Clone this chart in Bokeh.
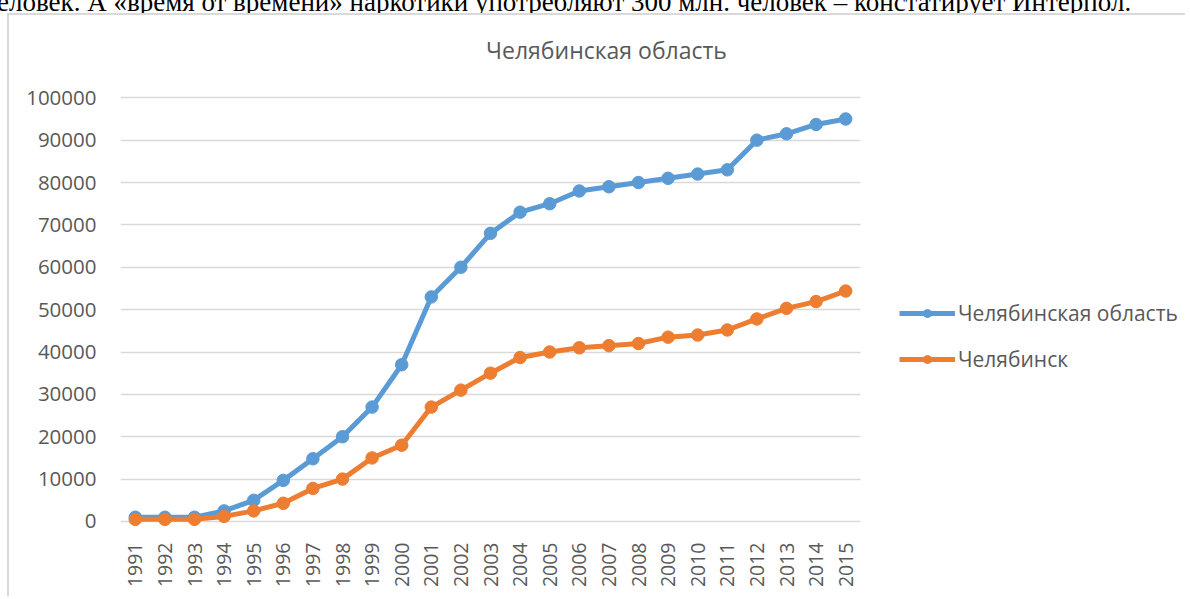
import math
from bokeh.plotting import figure
from bokeh.models import (Range1d, FixedTicker, Legend, LegendItem, Label, Div,
                          BasicTickFormatter, BoxAnnotation)
from bokeh.layouts import column
from bokeh.embed import file_html
from bokeh.resources import INLINE

years = list(range(1991, 2016))
oblast = [1000, 1000, 1000, 2500, 5000, 9700, 14800, 20000, 27000, 37000,
          53000, 60000, 68000, 73000, 75000, 78000, 79000, 80000, 81000, 82000,
          83000, 90000, 91500, 93700, 95000]
city = [500, 500, 500, 1200, 2500, 4300, 7800, 10000, 15000, 18000,
        27000, 31000, 35000, 38700, 40000, 41000, 41500, 42000, 43500, 44000,
        45200, 47800, 50300, 51900, 54400]
y_ticks = list(range(0, 100001, 10000))
title_text = "Челябинская область"
series_names = ["Челябинская область", "Челябинск"]
doc_text = "еловек. А «время от времени» наркотики употребляют 300 млн. человек – констатирует Интерпол."

BLUE = "#5B9BD5"
ORANGE = "#ED7D31"
GRAY = "#595959"
FONT = "Open Sans"

W, H = 1178, 583
LEFT, BOTTOM = 111, 66
PX_PER_YEAR = 29.6
PX_PER_UNIT = 0.004237
frame_w = W - LEFT
frame_h = H - BOTTOM
x_start = 1990.5
y_start = -2600
x_end = x_start + frame_w / PX_PER_YEAR
y_end = y_start + frame_h / PX_PER_UNIT

p = figure(width=W, height=H, output_backend="svg", toolbar_location=None,
           x_range=Range1d(x_start, x_end), y_range=Range1d(y_start, y_end),
           min_border_left=LEFT, min_border_right=0, min_border_top=0,
           min_border_bottom=BOTTOM, margin=(0, 0, 0, 7))
p.outline_line_color = None
p.background_fill_color = "white"
p.border_fill_color = "white"
p.styles = {"border-left": "2px solid #d9d9d9", "border-top": "2px solid #d9d9d9"}

p.xgrid.grid_line_color = None
p.ygrid.grid_line_color = "#d9d9d9"
p.ygrid.grid_line_width = 1.3
p.ygrid.ticker = FixedTicker(ticks=y_ticks)

p.xaxis.ticker = FixedTicker(ticks=years)
p.xaxis.major_label_orientation = math.pi / 2
p.xaxis.axis_line_color = None
p.xaxis.major_tick_line_color = None
p.xaxis.minor_tick_line_color = None
p.xaxis.major_label_standoff = 4
p.xaxis.major_label_text_font = FONT
p.xaxis.major_label_text_font_size = "19.5px"
p.xaxis.major_label_text_color = GRAY

p.yaxis.ticker = FixedTicker(ticks=y_ticks)
p.yaxis.formatter = BasicTickFormatter(use_scientific=False)
p.yaxis.axis_line_color = None
p.yaxis.major_tick_line_color = None
p.yaxis.minor_tick_line_color = None
p.yaxis.major_label_standoff = 18
p.yaxis.major_label_text_font = FONT
p.yaxis.major_label_text_font_size = "20.5px"
p.yaxis.major_label_text_color = GRAY

l1 = p.line(years, oblast, line_color=BLUE, line_width=5)
s1 = p.scatter(years, oblast, size=12.5, fill_color=BLUE, line_color=BLUE)
l2 = p.line(years, city, line_color=ORANGE, line_width=5)
s2 = p.scatter(years, city, size=12.5, fill_color=ORANGE, line_color=ORANGE)

# white cover so the gridlines stop at the end of the category axis
p.add_layout(BoxAnnotation(left=years[-1] + 0.5, fill_color="white", fill_alpha=1,
                           line_alpha=0))

legend = Legend(items=[LegendItem(label=series_names[0], renderers=[l1, s1]),
                       LegendItem(label=series_names[1], renderers=[l2, s2])],
                location=(779, 159), padding=0, margin=0, spacing=18,
                glyph_width=56, glyph_height=20, label_height=20, label_standoff=3,
                border_line_color=None, background_fill_alpha=0,
                label_text_font=FONT, label_text_font_size="21px",
                label_text_color=GRAY)
p.add_layout(legend, "center")

p.add_layout(Label(x=486, y=483, x_units="screen", y_units="screen", text=title_text,
                   text_align="center", text_baseline="alphabetic", text_font=FONT,
                   text_font_size="23px", text_color=GRAY))

div = Div(text=('<div style="position:relative; top:-11px; left:-3px; white-space:nowrap; '
                'font-family:\'Liberation Serif\', \'Times New Roman\', serif; font-size:27px; '
                'line-height:27px; color:black;">' + doc_text + '</div>'),
          width=1190, height=13, margin=0, styles={"overflow": "hidden"})

layout = column(div, p, spacing=0, margin=0)
open("out.html", "w").write(file_html(layout, INLINE))
